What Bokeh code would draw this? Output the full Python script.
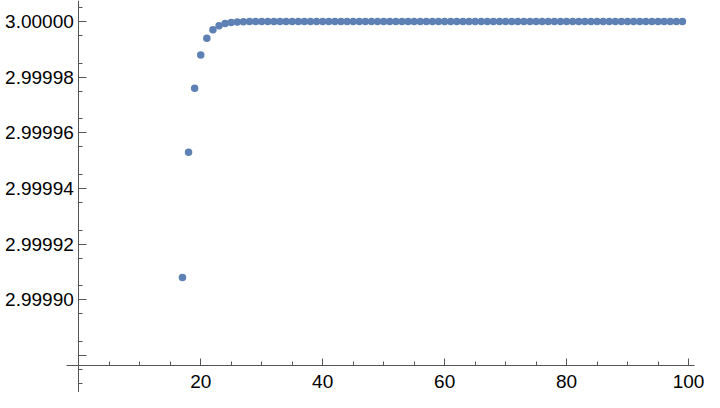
from bokeh.plotting import figure
from bokeh.models import LinearAxis, FixedTicker, PrintfTickFormatter, Range1d
from bokeh.embed import file_html
from bokeh.resources import INLINE

# ---- data ----
xs = list(range(17, 100))
ys_head = [2.999908, 2.999953, 2.999976, 2.999988, 2.999994, 2.999997,
           2.9999985, 2.9999993, 2.9999996, 2.9999998, 2.9999999]
ys_tail = [3.0, 3.0, 3.0, 3.0, 3.0, 3.0, 3.0, 3.0, 3.0, 3.0, 3.0, 3.0,
           3.0, 3.0, 3.0, 3.0, 3.0, 3.0, 3.0, 3.0, 3.0, 3.0, 3.0, 3.0,
           3.0, 3.0, 3.0, 3.0, 3.0, 3.0, 3.0, 3.0, 3.0, 3.0, 3.0, 3.0,
           3.0, 3.0, 3.0, 3.0, 3.0, 3.0, 3.0, 3.0, 3.0, 3.0, 3.0, 3.0,
           3.0, 3.0, 3.0, 3.0, 3.0, 3.0, 3.0, 3.0, 3.0, 3.0, 3.0, 3.0,
           3.0, 3.0, 3.0, 3.0, 3.0, 3.0, 3.0, 3.0, 3.0, 3.0, 3.0, 3.0]
ys = ys_head + ys_tail

x_major = [20, 40, 60, 80, 100]
x_minor = [5, 10, 15, 25, 30, 35, 45, 50, 55, 65, 70, 75, 85, 90, 95]
y_major = [2.99990, 2.99992, 2.99994, 2.99996, 2.99998, 3.00000]
y_major_unlabeled = [2.99988]
y_minor = [2.999870, 2.999875, 2.999885, 2.999895, 2.999905, 2.999915,
           2.999925, 2.999935, 2.999945, 2.999955, 2.999965, 2.999975,
           2.999985, 2.999995, 3.000005]

AXIS_COLOR = "#555555"
POINT_COLOR = "#5E81B5"
FONT = "Liberation Sans"

p = figure(width=704, height=392, output_backend="svg", toolbar_location=None,
           x_axis_type=None, y_axis_type=None, min_border=0,
           x_range=Range1d(-12.842, 102.62),
           y_range=Range1d(2.99986669, 3.000007546))
p.outline_line_color = None
p.background_fill_color = "white"
p.border_fill_color = "white"

p.scatter(xs, ys, size=7.5, color=POINT_COLOR, line_color=None)


def style(ax, tick_in, minor_in):
    ax.axis_line_color = AXIS_COLOR
    ax.major_tick_line_color = AXIS_COLOR
    ax.minor_tick_line_color = AXIS_COLOR
    ax.major_tick_in = tick_in
    ax.major_tick_out = 0
    ax.minor_tick_in = minor_in
    ax.minor_tick_out = 0
    ax.major_label_text_font = FONT
    ax.major_label_text_font_size = "19px"
    ax.major_label_text_color = "black"


xaxis = LinearAxis(fixed_location=2.99987639, bounds=(-2, 101),
                   ticker=FixedTicker(ticks=x_major, minor_ticks=x_minor))
style(xaxis, 7, 4)
xaxis.major_label_standoff = 9
p.add_layout(xaxis, "below")

yaxis = LinearAxis(fixed_location=0,
                   ticker=FixedTicker(ticks=y_major, minor_ticks=y_minor),
                   formatter=PrintfTickFormatter(format="%.5f"))
style(yaxis, 8, 4)
yaxis.major_label_standoff = 5
p.add_layout(yaxis, "left")

yaxis2 = LinearAxis(fixed_location=0,
                    ticker=FixedTicker(ticks=y_major_unlabeled, minor_ticks=[]))
style(yaxis2, 8, 0)
yaxis2.axis_line_color = None
yaxis2.major_label_text_color = None
p.add_layout(yaxis2, "left")

open("out.html", "w").write(file_html(p, INLINE))
